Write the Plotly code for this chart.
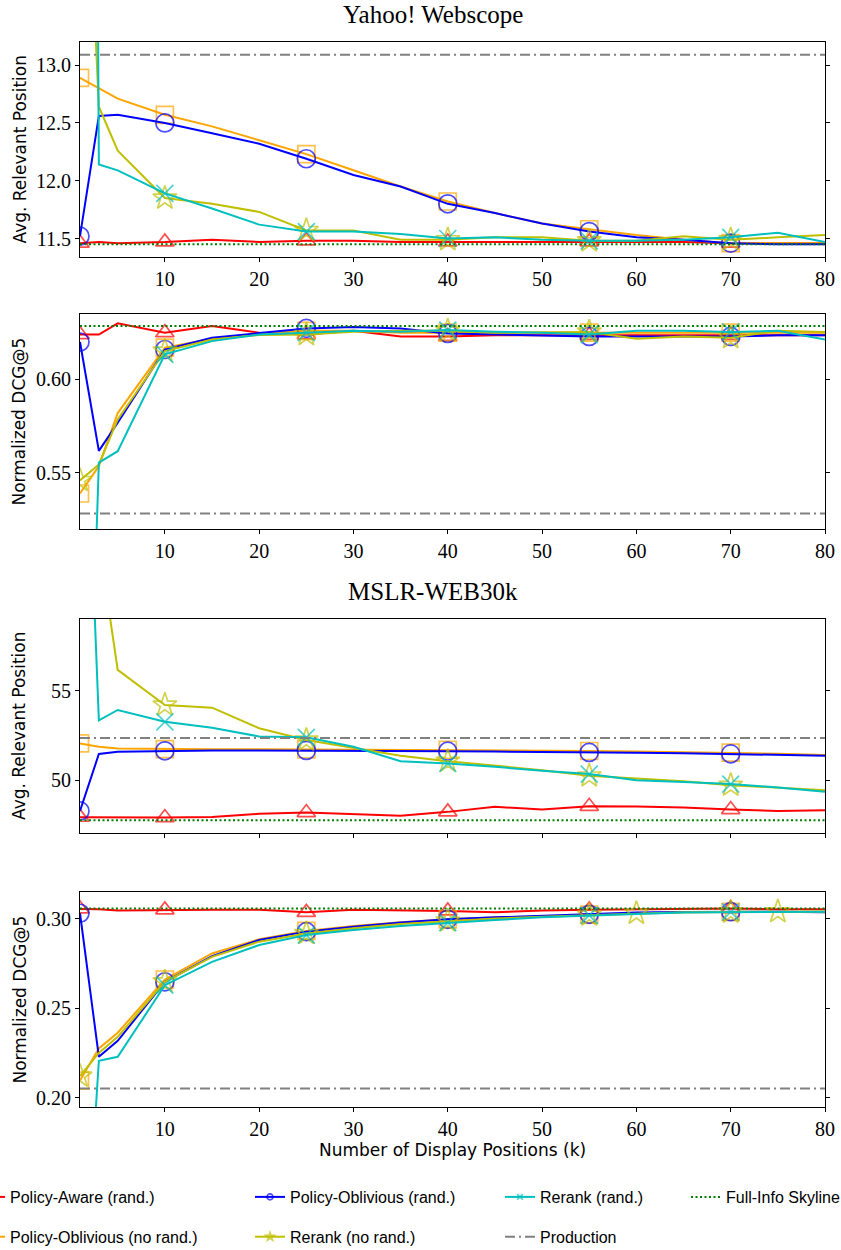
import plotly.graph_objects as go

# ---------------- data ----------------
X = [1, 3, 5, 10, 15, 20, 25, 30, 35, 40, 45, 50, 55, 60, 65, 70, 75, 80]
MARK_X = [1, 10, 25, 40, 55, 70]

NAMES = ["Policy-Aware (rand.)", "Policy-Oblivious (no rand.)", "Policy-Oblivious (rand.)",
         "Rerank (no rand.)", "Rerank (rand.)", "Production", "Full-Info Skyline"]

# Yahoo! Webscope - Avg. Relevant Position
yahoo_pos_aware = [11.46, 11.47, 11.46, 11.47, 11.49, 11.47, 11.48, 11.48, 11.47, 11.47, 11.47, 11.47, 11.47, 11.47, 11.47, 11.46, 11.46, 11.46]
yahoo_pos_obl_norand = [12.89, 12.80, 12.71, 12.57, 12.47, 12.35, 12.23, 12.09, 11.95, 11.82, 11.72, 11.63, 11.58, 11.53, 11.49, 11.46, 11.46, 11.46]
yahoo_pos_obl_rand = [11.52, 12.56, 12.57, 12.50, 12.41, 12.32, 12.19, 12.05, 11.95, 11.80, 11.72, 11.63, 11.56, 11.51, 11.49, 11.46, 11.45, 11.45]
yahoo_pos_rerank_norand = [16.2, 12.64, 12.26, 11.85, 11.80, 11.73, 11.57, 11.57, 11.49, 11.49, 11.51, 11.51, 11.48, 11.48, 11.52, 11.49, 11.51, 11.53]
yahoo_pos_rerank_rand = [40.0, 12.14, 12.09, 11.89, 11.76, 11.62, 11.56, 11.56, 11.54, 11.50, 11.51, 11.49, 11.48, 11.48, 11.49, 11.51, 11.55, 11.47]
yahoo_pos_production = 13.09
yahoo_pos_skyline = 11.45

# Yahoo! Webscope - Normalized DCG@5
yahoo_dcg_aware = [0.624, 0.624, 0.630, 0.625, 0.6286, 0.625, 0.624, 0.626, 0.623, 0.623, 0.6236, 0.6236, 0.6236, 0.6236, 0.6236, 0.6236, 0.6236, 0.6236]
yahoo_dcg_obl_norand = [0.539, 0.5536, 0.582, 0.617, 0.6218, 0.6245, 0.626, 0.626, 0.625, 0.625, 0.625, 0.625, 0.625, 0.625, 0.625, 0.625, 0.625, 0.625]
yahoo_dcg_obl_rand = [0.620, 0.5618, 0.5768, 0.616, 0.6223, 0.625, 0.6273, 0.628, 0.6273, 0.6246, 0.624, 0.6236, 0.623, 0.623, 0.6229, 0.623, 0.6236, 0.6236]
yahoo_dcg_rerank_norand = [0.546, 0.5545, 0.5786, 0.6152, 0.6214, 0.6238, 0.624, 0.6255, 0.626, 0.626, 0.625, 0.625, 0.6254, 0.6218, 0.623, 0.6223, 0.626, 0.6254]
yahoo_dcg_rerank_rand = [0.25, 0.5555, 0.5616, 0.6134, 0.6205, 0.624, 0.625, 0.626, 0.6255, 0.6264, 0.6255, 0.625, 0.624, 0.626, 0.626, 0.6254, 0.626, 0.6214]
yahoo_dcg_production = 0.5283
yahoo_dcg_skyline = 0.6286

# MSLR-WEB30k - Avg. Relevant Position
mslr_pos_aware = [47.93, 47.92, 47.92, 47.91, 47.95, 48.12, 48.19, 48.10, 48.02, 48.23, 48.51, 48.36, 48.54, 48.53, 48.47, 48.36, 48.28, 48.32]
mslr_pos_obl_norand = [52.05, 51.87, 51.77, 51.73, 51.73, 51.73, 51.72, 51.72, 51.71, 51.70, 51.68, 51.66, 51.63, 51.60, 51.57, 51.54, 51.47, 51.40]
mslr_pos_obl_rand = [48.28, 51.46, 51.59, 51.64, 51.66, 51.66, 51.66, 51.66, 51.65, 51.62, 51.60, 51.59, 51.55, 51.53, 51.51, 51.47, 51.42, 51.36]
mslr_pos_rerank_norand = [70.0, 63.3, 56.16, 54.20, 54.05, 52.90, 52.24, 51.81, 51.36, 51.06, 50.80, 50.56, 50.24, 50.09, 49.94, 49.72, 49.57, 49.44]
mslr_pos_rerank_rand = [80.0, 53.34, 53.92, 53.26, 52.93, 52.44, 52.39, 51.87, 51.06, 50.93, 50.75, 50.52, 50.34, 50.00, 49.90, 49.78, 49.59, 49.35]
mslr_pos_production = 52.35
mslr_pos_skyline = 47.76

# MSLR-WEB30k - Normalized DCG@5
mslr_dcg_aware = [0.3056, 0.3054, 0.3047, 0.3051, 0.3051, 0.3051, 0.3037, 0.3051, 0.3049, 0.3045, 0.3037, 0.3047, 0.3051, 0.3054, 0.3054, 0.3058, 0.3054, 0.3054]
mslr_dcg_obl_norand = [0.2095, 0.2275, 0.2363, 0.2661, 0.2807, 0.2886, 0.2933, 0.2961, 0.2981, 0.2998, 0.3008, 0.3017, 0.3024, 0.3032, 0.3037, 0.3040, 0.3041, 0.3041]
mslr_dcg_obl_rand = [0.3032, 0.2228, 0.2318, 0.2648, 0.2792, 0.2882, 0.2929, 0.2957, 0.2980, 0.2998, 0.3009, 0.3019, 0.3026, 0.3036, 0.3039, 0.3041, 0.3040, 0.3037]
mslr_dcg_rerank_norand = [0.2120, 0.2250, 0.2340, 0.2648, 0.2788, 0.2873, 0.2919, 0.2948, 0.2972, 0.2989, 0.3002, 0.3013, 0.3022, 0.3032, 0.3037, 0.3039, 0.3041, 0.3041]
mslr_dcg_rerank_rand = [0.054, 0.2206, 0.2228, 0.2629, 0.2760, 0.2854, 0.2910, 0.2938, 0.2961, 0.2979, 0.2994, 0.3009, 0.3020, 0.3028, 0.3036, 0.3039, 0.3041, 0.3041]
mslr_dcg_production = 0.205
mslr_dcg_skyline = 0.3058
mslr_dcg_rerank_norand_extra_marks = [60, 75]

X_TICKS = [10, 20, 30, 40, 50, 60, 70, 80]
Y_TICKS = [[11.5, 12.0, 12.5, 13.0], [0.55, 0.60], [50, 55], [0.20, 0.25, 0.30]]
Y_RANGES = [[11.34, 13.2], [0.520, 0.635], [47.05, 59.0], [0.1947, 0.3151]]
Y_TITLES = ["Avg. Relevant Position", "Normalized DCG@5", "Avg. Relevant Position", "Normalized DCG@5"]
X_TITLE = "Number of Display Positions (k)"
DATASETS = ["Yahoo! Webscope", "MSLR-WEB30k"]

# ---------------- styles ----------------
STY = {
    NAMES[0]: dict(color="#FF0000", symbol="triangle-up-open", size=16, legend="legend"),
    NAMES[1]: dict(color="#FFA500", symbol="square-open", size=17, legend="legend"),
    NAMES[2]: dict(color="#0000FF", symbol="circle-open", size=18, legend="legend2"),
    NAMES[3]: dict(color="#BFBF00", symbol="star-open", size=18, legend="legend2"),
    NAMES[4]: dict(color="#00BFBF", symbol="x-thin-open", size=17, legend="legend3"),
}

panels = [
    dict(series=[yahoo_pos_aware, yahoo_pos_obl_norand, yahoo_pos_obl_rand, yahoo_pos_rerank_norand, yahoo_pos_rerank_rand],
         prod=yahoo_pos_production, sky=yahoo_pos_skyline, fmt=".1f", showx=True, extra={}),
    dict(series=[yahoo_dcg_aware, yahoo_dcg_obl_norand, yahoo_dcg_obl_rand, yahoo_dcg_rerank_norand, yahoo_dcg_rerank_rand],
         prod=yahoo_dcg_production, sky=yahoo_dcg_skyline, fmt=".2f", showx=True, extra={}),
    dict(series=[mslr_pos_aware, mslr_pos_obl_norand, mslr_pos_obl_rand, mslr_pos_rerank_norand, mslr_pos_rerank_rand],
         prod=mslr_pos_production, sky=mslr_pos_skyline, fmt="d", showx=False, extra={}),
    dict(series=[mslr_dcg_aware, mslr_dcg_obl_norand, mslr_dcg_obl_rand, mslr_dcg_rerank_norand, mslr_dcg_rerank_rand],
         prod=mslr_dcg_production, sky=mslr_dcg_skyline, fmt=".2f", showx=True, extra={3: mslr_dcg_rerank_norand_extra_marks}),
]

W, H = 841, 1250
ML, MR, MT, MB = 80, 16, 42, 143
PW = W - ML - MR
PH = H - MT - MB
panel_px = [(42, 257), (314, 529), (619, 833), (892, 1107)]
domains = [[1 - (b - MT) / PH, 1 - (t - MT) / PH] for t, b in panel_px]

TICKFONT = dict(family="Liberation Serif, Times New Roman, serif", size=20, color="#000")
SANS = "DejaVu Sans, Liberation Sans, sans-serif"

fig = go.Figure()

for p_i, p in enumerate(panels):
    sfx = "" if p_i == 0 else str(p_i + 1)
    xa, ya = "x" + sfx, "y" + sfx
    for s_i, ys in enumerate(p["series"]):
        name = NAMES[s_i]
        st = STY[name]
        marks = set(MARK_X) | set(p["extra"].get(s_i, []))
        sizes = [st["size"] if xv in marks else 0 for xv in X]
        fig.add_trace(go.Scatter(
            x=X, y=ys, xaxis=xa, yaxis=ya, name=name, mode="lines+markers",
            line=dict(color=st["color"], width=2),
            marker=dict(symbol=st["symbol"], size=sizes, color=st["color"],
                        line=dict(color=st["color"], width=1.7)),
            legend=st["legend"], legendgroup=name, showlegend=(p_i == 0),
        ))
    fig.add_trace(go.Scatter(
        x=X, y=[p["prod"]] * len(X), xaxis=xa, yaxis=ya, name=NAMES[5], mode="lines",
        line=dict(color="#808080", width=2, dash="10px,4px,2px,4px"),
        legend="legend3", legendgroup=NAMES[5], showlegend=(p_i == 0),
    ))
    fig.add_trace(go.Scatter(
        x=X, y=[p["sky"]] * len(X), xaxis=xa, yaxis=ya, name=NAMES[6], mode="lines",
        line=dict(color="#008000", width=2, dash="2px,2.5px"),
        legend="legend4", legendgroup=NAMES[6], showlegend=(p_i == 0),
    ))

    axis_common = dict(showline=True, linecolor="#000", linewidth=1, showgrid=False, zeroline=False,
                       ticks="outside", ticklen=4, tickwidth=1, tickcolor="#000", tickfont=TICKFONT)
    fig.layout["xaxis" + sfx] = dict(
        axis_common, domain=[0, 1], range=[1, 80], anchor=ya, mirror=True,
        tickvals=X_TICKS, showticklabels=p["showx"],
    )
    fig.layout["yaxis" + sfx] = dict(
        axis_common, domain=domains[p_i], range=Y_RANGES[p_i], anchor=xa, mirror="ticks",
        tickvals=Y_TICKS[p_i], tickformat=p["fmt"],
    )
    # y-axis title (aligned across panels)
    fig.add_annotation(text=Y_TITLES[p_i], xref="paper", yref="paper",
                       x=(19 - ML) / PW, y=sum(domains[p_i]) / 2,
                       xanchor="center", yanchor="middle", textangle=-90, showarrow=False,
                       font=dict(family=SANS, size=17, color="#000"))

# x-axis title under the bottom panel
fig.add_annotation(text=X_TITLE, xref="paper", yref="paper", x=0.5, y=-(1150 - (H - MB)) / PH,
                   xanchor="center", yanchor="middle", showarrow=False,
                   font=dict(family=SANS, size=17, color="#000"))

# dataset titles
for py, txt in zip([14, 591], DATASETS):
    fig.add_annotation(text=txt, xref="paper", yref="paper",
                       x=(433 - ML) / PW, y=1 - (py - MT) / PH,
                       xanchor="center", yanchor="middle", showarrow=False,
                       font=dict(family="Liberation Serif, Times New Roman, serif", size=25, color="#000"))

LEGFONT = dict(family="Liberation Sans, Arial, sans-serif", size=16, color="#000")
leg_common = dict(orientation="v", xref="paper", yref="container", xanchor="left", yanchor="top",
                  y=1 - 1180 / H, bgcolor="rgba(0,0,0,0)", borderwidth=0, font=LEGFONT,
                  tracegroupgap=16, itemwidth=30, itemsizing="trace")
fig.update_layout(
    width=W, height=H,
    margin=dict(l=ML, r=MR, t=MT, b=MB, autoexpand=False),
    paper_bgcolor="white", plot_bgcolor="white",
    legend=dict(leg_common, x=(-30 - ML) / PW),
    legend2=dict(leg_common, x=(250 - ML) / PW),
    legend3=dict(leg_common, x=(500 - ML) / PW),
    legend4=dict(leg_common, x=(686 - ML) / PW),
)

fig.write_html("out.html", config={"displayModeBar": False},
               post_script="document.body.style.margin='0';document.body.style.padding='0';")
